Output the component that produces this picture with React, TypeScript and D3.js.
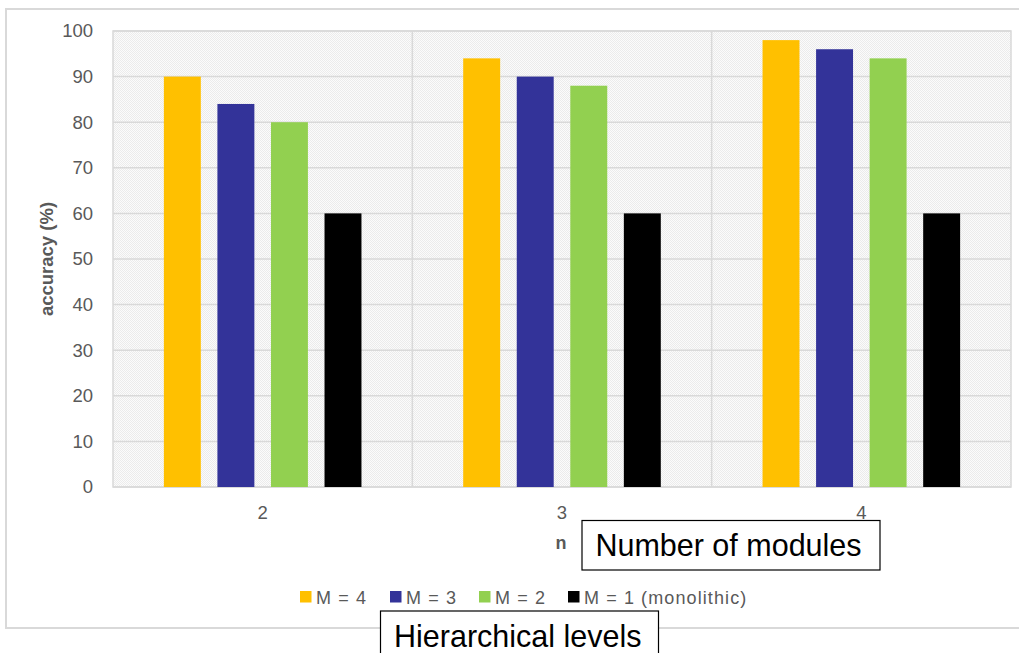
import React from 'react';
import * as d3 from 'd3';

const categories = ['2', '3', '4'];
const seriesNames = ['M = 4', 'M = 3', 'M = 2', 'M = 1 (monolithic)'];
const seriesColors = ['#ffc000', '#333399', '#92d050', '#000000'];
const m4 = [90, 94, 98];
const m3 = [84, 90, 96];
const m2 = [80, 88, 94];
const m1 = [60, 60, 60];
const yTicks = [0, 10, 20, 30, 40, 50, 60, 70, 80, 90, 100];

const W = 1019;
const H = 653;
const plot = { left: 113, right: 1011, top: 31, bottom: 487 };
const font = 'Liberation Sans, Arial, sans-serif';

const App = () => {
  const series = [m4, m3, m2, m1];

  const x = d3.scaleBand<string>().domain(categories).range([plot.left, plot.right]);
  const inner = d3
    .scaleBand<number>()
    .domain(d3.range(series.length))
    .range([0, x.bandwidth()])
    .paddingInner(0.31)
    .paddingOuter(0.95);
  const y = d3.scaleLinear().domain([0, 100]).range([plot.bottom, plot.top]);

  const legendX = [300, 390, 479, 568];

  return (
    <svg width={W} height={H} style={{ position: 'absolute', left: 0, top: 0 }}>
      <defs>
        <pattern id="checker" width={2} height={2} patternUnits="userSpaceOnUse">
          <rect width={2} height={2} fill="#fbfbfb" />
          <rect width={1} height={1} fill="#ebebeb" />
          <rect x={1} y={1} width={1} height={1} fill="#ebebeb" />
        </pattern>
      </defs>
      <rect width={W} height={H} fill="#fff" />
      {/* outer chart border */}
      <rect x={6} y={9} width={W} height={619} fill="none" stroke="#d9d9d9" strokeWidth={2} />

      {/* plot area */}
      <rect
        x={plot.left}
        y={plot.top}
        width={plot.right - plot.left}
        height={plot.bottom - plot.top}
        fill="url(#checker)"
        stroke="#d9d9d9"
        strokeWidth={1.5}
      />
      {yTicks.map(t => (
        <line key={t} x1={plot.left} x2={plot.right} y1={y(t)} y2={y(t)} stroke="#d9d9d9" strokeWidth={1.5} />
      ))}
      {categories.slice(1).map(c => (
        <line key={c} x1={x(c)!} x2={x(c)!} y1={plot.top} y2={plot.bottom} stroke="#d9d9d9" strokeWidth={1.5} />
      ))}

      {/* bars */}
      {series.map((vals, si) =>
        vals.map((v, ci) => (
          <rect
            key={`${si}-${ci}`}
            x={x(categories[ci])! + inner(si)!}
            y={y(v)}
            width={inner.bandwidth()}
            height={y(0) - y(v)}
            fill={seriesColors[si]}
          />
        ))
      )}

      {/* y tick labels */}
      {yTicks.map(t => (
        <text key={t} x={93} y={y(t)} dy="0.35em" textAnchor="end" fontFamily={font} fontSize={18.5} fill="#595959">
          {t}
        </text>
      ))}

      {/* x tick labels */}
      {categories.map(c => (
        <text key={c} x={x(c)! + x.bandwidth() / 2} y={519} textAnchor="middle" fontFamily={font} fontSize={18.5} fill="#595959">
          {c}
        </text>
      ))}

      {/* axis titles */}
      <text x={561} y={549} textAnchor="middle" fontFamily={font} fontSize={18} fontWeight="bold" fill="#595959">
        n
      </text>
      <text
        transform={`translate(53, ${(plot.top + plot.bottom) / 2}) rotate(-90)`}
        textAnchor="middle"
        fontFamily={font}
        fontSize={18.5}
        fontWeight="bold"
        fill="#595959"
      >
        accuracy (%)
      </text>

      {/* legend */}
      {seriesNames.map((name, i) => (
        <g key={name}>
          <rect x={legendX[i]} y={591} width={11.5} height={11.5} fill={seriesColors[i]} />
          <text x={legendX[i] + 16} y={604} fontFamily={font} fontSize={18} letterSpacing={1.1} fill="#595959">
            {name}
          </text>
        </g>
      ))}

      {/* annotation boxes */}
      <rect x={582} y={520.5} width={298} height={49.5} fill="#fff" stroke="#000" strokeWidth={1.2} />
      <text x={728.5} y={556} textAnchor="middle" fontFamily={font} fontSize={30.5} fill="#000">
        Number of modules
      </text>
      <rect x={380.5} y={611} width={278} height={50} fill="#fff" stroke="#000" strokeWidth={1.2} />
      <text x={394} y={647} fontFamily={font} fontSize={30.5} fill="#000">
        Hierarchical levels
      </text>
    </svg>
  );
};

export default App;
